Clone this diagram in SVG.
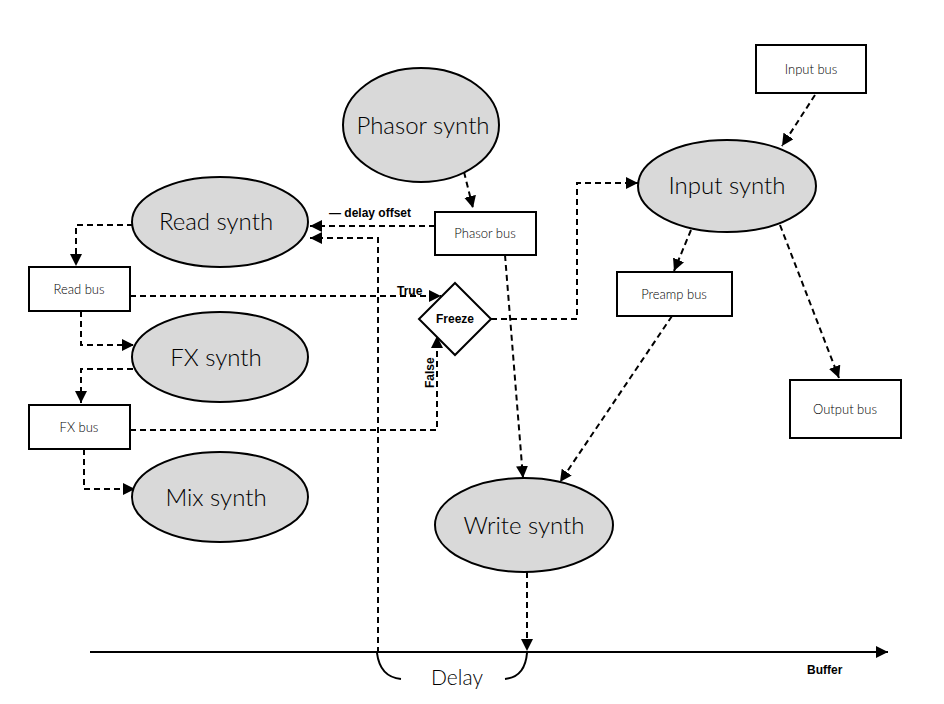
<svg xmlns="http://www.w3.org/2000/svg" width="944" height="704" viewBox="0 0 944 704">
<defs>
<marker id="ah" viewBox="0 0 10 10" refX="10" refY="5" markerWidth="12" markerHeight="12" markerUnits="userSpaceOnUse" orient="auto">
<path d="M0,0 L10,5 L0,10 z" fill="#000"/>
</marker>
<style>
.syn{fill:#d9d9d9;stroke:#000;stroke-width:2}
.bus{fill:#fff;stroke:#000;stroke-width:2}
.st{font-family:Lato,"Open Sans",sans-serif;font-size:24px;font-weight:300;fill:#000;text-anchor:middle}
.bt{font-family:Lato,"Open Sans",sans-serif;font-size:13px;font-weight:300;fill:#000;text-anchor:middle}
.lb{font-family:"Liberation Sans",Arial,sans-serif;font-size:12px;font-weight:bold;fill:#000}
.c{fill:none;stroke:#000;stroke-width:2;stroke-dasharray:6,4}
.s{fill:none;stroke:#000;stroke-width:2}
</style>
</defs>
<rect width="944" height="704" fill="#fff"/>
<g id="connectors">
<path class="c" d="M464,172 L473,208" marker-end="url(#ah)"/>
<path class="c" d="M435,226 L310,226" marker-end="url(#ah)"/>
<path class="c" d="M378,653 L378,238 L310,238" marker-end="url(#ah)"/>
<path class="c" d="M133,225 L76,225 L76,266" marker-end="url(#ah)"/>
<path class="c" d="M81,311 L81,345 L134,345" marker-end="url(#ah)"/>
<path class="c" d="M133,369 L81,369 L81,403" marker-end="url(#ah)"/>
<path class="c" d="M84,449 L84,489 L135,489" marker-end="url(#ah)"/>
<path class="c" d="M130,296 L441,296" marker-end="url(#ah)"/>
<path class="c" d="M130,430 L437,430 L437,336" marker-end="url(#ah)"/>
<path class="c" d="M491,319 L577,319 L577,183 L638,183" marker-end="url(#ah)"/>
<path class="c" d="M691,230 L674,271" marker-end="url(#ah)"/>
<path class="c" d="M815,95 L782,146" marker-end="url(#ah)"/>
<path class="c" d="M780,225 L839,378" marker-end="url(#ah)"/>
<path class="c" d="M505,255 L523,478" marker-end="url(#ah)"/>
<path class="c" d="M672,316 L560,482" marker-end="url(#ah)"/>
<path class="c" d="M527,572 L527,651" marker-end="url(#ah)"/>
<path class="s" d="M90,652 L888,652" marker-end="url(#ah)"/>
<path class="s" d="M377,653 Q380,677 401,679"/>
<path class="s" d="M527,653 Q525,677 505,679"/>
<text class="lb" x="329" y="217">— delay offset</text>
<text class="lb" x="397" y="295">True</text>
<text class="lb" transform="translate(434,388) rotate(-90)">False</text>
<text class="lb" x="807" y="674">Buffer</text>
<text x="457" y="685" font-family="Lato,'Open Sans',sans-serif" font-size="21" font-weight="300" fill="#000" text-anchor="middle">Delay</text>
</g>
<g id="phasor-synth"><ellipse class="syn" cx="421" cy="125" rx="78" ry="57"/><text class="st" x="423" y="134">Phasor synth</text></g>
<g id="read-synth"><ellipse class="syn" cx="220" cy="222" rx="88" ry="45"/><text class="st" x="216" y="230">Read synth</text></g>
<g id="fx-synth"><ellipse class="syn" cx="220" cy="357" rx="88" ry="45"/><text class="st" x="216" y="366">FX synth</text></g>
<g id="mix-synth"><ellipse class="syn" cx="220" cy="497" rx="88" ry="45"/><text class="st" x="216" y="506">Mix synth</text></g>
<g id="input-synth"><ellipse class="syn" cx="727" cy="186" rx="89" ry="46"/><text class="st" x="727" y="194">Input synth</text></g>
<g id="write-synth"><ellipse class="syn" cx="524" cy="525" rx="89" ry="47"/><text class="st" x="524" y="534">Write synth</text></g>
<g id="input-bus"><rect class="bus" x="756" y="45" width="110" height="48"/><text class="bt" x="811" y="74">Input bus</text></g>
<g id="output-bus"><rect class="bus" x="790" y="380" width="111" height="58"/><text class="bt" x="845" y="414">Output  bus</text></g>
<g id="phasor-bus"><rect class="bus" x="435" y="212" width="101" height="43"/><text class="bt" x="485" y="238">Phasor bus</text></g>
<g id="preamp-bus"><rect class="bus" x="617" y="272" width="115" height="44"/><text class="bt" x="674" y="299">Preamp  bus</text></g>
<g id="read-bus"><rect class="bus" x="29" y="267" width="101" height="44"/><text class="bt" x="79" y="294">Read bus</text></g>
<g id="fx-bus"><rect class="bus" x="29" y="405" width="101" height="44"/><text class="bt" x="79" y="432">FX bus</text></g>
<g id="freeze"><path class="bus" d="M455,283 L491,319 L455,355 L419,319 z"/><text class="lb" x="455" y="323" text-anchor="middle">Freeze</text></g>
</svg>
